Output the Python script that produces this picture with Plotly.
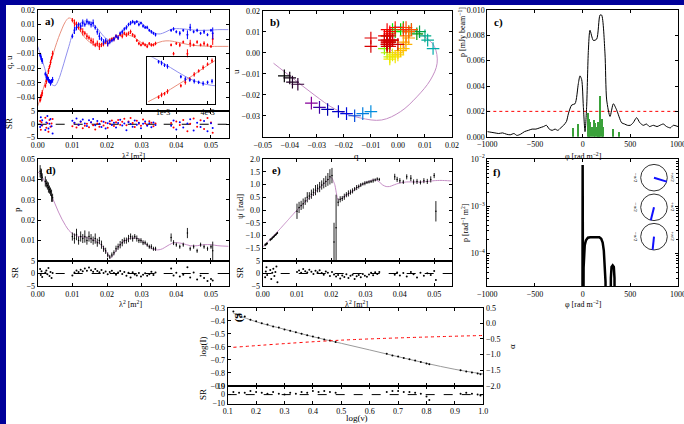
import numpy as np
import plotly.graph_objects as go

W, H = 684, 424
FONT = "Liberation Serif"
BG_BLUE = "#00009a"

# ---------------- data: polarisation vs lambda^2 (panels a, b, d, e) ----------------
LAM2 = [0.0007, 0.0009, 0.0011, 0.0013, 0.0022, 0.0025, 0.0028, 0.0031, 0.0034, 0.0037, 0.0040, 0.0043,
        0.0100, 0.0106, 0.0112, 0.0118, 0.0124, 0.0130, 0.0136, 0.0142, 0.0148, 0.0154,
        0.0160, 0.0166, 0.0172, 0.0178, 0.0184, 0.0190, 0.0196, 0.0202, 0.0208, 0.0214,
        0.0220, 0.0226, 0.0232, 0.0238, 0.0244, 0.0250, 0.0256, 0.0262, 0.0268, 0.0274,
        0.0280, 0.0286, 0.0292, 0.0298, 0.0304, 0.0310, 0.0316, 0.0322, 0.0328, 0.0334, 0.0340,
        0.0385, 0.0392, 0.0400, 0.0410, 0.0420, 0.0432, 0.0440, 0.0450, 0.0460, 0.0470,
        0.0480, 0.0490, 0.0500, 0.0505]

Q = [-0.042, -0.040, -0.039, -0.037, -0.032, -0.029, -0.026, -0.022, -0.019, -0.016, -0.013, -0.010,
     0.013, 0.011, 0.010, 0.008, 0.007, 0.005, 0.004, 0.002, 0.001, -0.001,
     -0.002, -0.004, -0.003, -0.005, -0.004, -0.003, -0.002, -0.003, -0.001, 0.000,
     0.000, 0.002, 0.001, 0.003, 0.002, 0.004, 0.003, 0.004, 0.005, 0.003,
     0.002, -0.001, -0.003, -0.004, -0.003, -0.004, -0.005, -0.003, -0.004, -0.004, -0.003,
     -0.004, -0.010, -0.003, -0.004, -0.002, -0.010, -0.003, -0.004, -0.002, -0.004,
     -0.003, -0.004, -0.005, 0.000]

U = [-0.011, -0.012, -0.014, -0.015, -0.024, -0.026, -0.027, -0.028, -0.029, -0.030, -0.029, -0.028,
     0.002, 0.006, 0.008, 0.010, 0.009, 0.011, 0.010, 0.012, 0.011, 0.010,
     0.011, 0.008, 0.005, 0.002, 0.000, -0.002, -0.001, -0.003, -0.002, -0.001,
     0.000, 0.002, 0.001, 0.004, 0.005, 0.007, 0.008, 0.010, 0.011, 0.012,
     0.011, 0.012, 0.010, 0.011, 0.009, 0.008, 0.008, 0.006, 0.005, 0.004, 0.003,
     0.006, 0.007, 0.005, 0.004, 0.006, 0.003, 0.008, 0.005, 0.006, 0.004,
     0.005, 0.003, 0.006, 0.004]

QU_ERR = [0.0015, 0.002, 0.0015, 0.002, 0.0015, 0.002, 0.0015, 0.002, 0.0015, 0.002, 0.0015, 0.002,
          0.0015, 0.0025, 0.002, 0.0015, 0.002, 0.0025, 0.0015, 0.002, 0.0015, 0.002,
          0.0025, 0.0015, 0.002, 0.0025, 0.0015, 0.002, 0.0015, 0.002, 0.0015, 0.0012,
          0.0015, 0.0012, 0.0015, 0.0012, 0.0015, 0.0012, 0.0015, 0.0012, 0.0015, 0.0012,
          0.0012, 0.001, 0.0012, 0.001, 0.0012, 0.001, 0.0012, 0.001, 0.0012, 0.001, 0.0012,
          0.001, 0.0012, 0.001, 0.0015, 0.001, 0.003, 0.0025, 0.001, 0.0012, 0.001,
          0.0015, 0.001, 0.001, 0.004]

P = [0.044, 0.043, 0.042, 0.041, 0.039, 0.038, 0.037, 0.036, 0.035, 0.034, 0.032, 0.031,
     0.012, 0.011, 0.013, 0.010, 0.012, 0.011, 0.012, 0.010, 0.012, 0.011,
     0.010, 0.011, 0.009, 0.010, 0.008, 0.006, 0.005, 0.003, 0.002, 0.003,
     0.004, 0.006, 0.007, 0.008, 0.009, 0.010, 0.010, 0.011, 0.012, 0.011,
     0.012, 0.011, 0.010, 0.010, 0.009, 0.009, 0.008, 0.007, 0.007, 0.006, 0.006,
     0.0115, 0.009, 0.008, 0.007, 0.008, 0.0137, 0.006, 0.007, 0.005, 0.008,
     0.007, 0.006, 0.007, 0.005]

P_ERR = [0.003, 0.0025, 0.003, 0.002, 0.0025, 0.002, 0.002, 0.0025, 0.002, 0.002, 0.003, 0.002,
         0.002, 0.0025, 0.0028, 0.002, 0.0025, 0.0022, 0.003, 0.002, 0.0025, 0.0022,
         0.002, 0.0025, 0.002, 0.0018, 0.002, 0.0015, 0.0015, 0.0012, 0.001, 0.0012,
         0.0012, 0.0015, 0.0015, 0.0018, 0.0018, 0.0015, 0.0015, 0.0018, 0.0015, 0.0015,
         0.0012, 0.0015, 0.0012, 0.0012, 0.0012, 0.001, 0.001, 0.001, 0.0012, 0.001, 0.001,
         0.002, 0.0012, 0.001, 0.001, 0.001, 0.0025, 0.001, 0.001, 0.001, 0.001,
         0.001, 0.001, 0.001, 0.0045]

PSI = [-1.37, -1.35, -1.33, -1.31, -1.17, -1.14, -1.10, -1.06, -1.02, -0.98, -0.94, -0.90,
       -0.05, 0.10, 0.18, 0.25, 0.35, 0.50, 0.55, 0.62, 0.70, 0.78,
       0.85, 0.90, 0.98, 1.05, 1.12, 1.20, 1.30, 1.35, -1.25, -0.70,
       0.30, 0.42, 0.45, 0.52, 0.60, 0.65, 0.70, 0.75, 0.82, 0.88,
       0.92, 0.98, 1.02, 1.05, 1.08, 1.10, 1.12, 1.15, 1.18, 1.22, 1.20,
       1.30, 1.20, 1.15, 1.10, 1.30, 1.25, 1.10, 1.12, 1.08, 1.15,
       1.12, 1.20, 1.35, -0.05]

PSI_ERR = [0.05, 0.04, 0.05, 0.04, 0.05, 0.04, 0.05, 0.04, 0.05, 0.04, 0.05, 0.04,
           0.3, 0.22, 0.18, 0.2, 0.15, 0.2, 0.15, 0.18, 0.15, 0.2,
           0.16, 0.2, 0.18, 0.2, 0.22, 0.25, 0.3, 0.3, 0.75, 1.3,
           0.15, 0.12, 0.1, 0.12, 0.1, 0.12, 0.1, 0.1, 0.08, 0.1,
           0.08, 0.08, 0.06, 0.08, 0.06, 0.06, 0.06, 0.08, 0.06, 0.06, 0.06,
           0.12, 0.1, 0.1, 0.08, 0.1, 0.12, 0.1, 0.1, 0.08, 0.1,
           0.1, 0.12, 0.1, 0.4]

SR_Q = [1.2, -2.1, 0.8, -0.5, 2.5, -1.3, 0.4, -2.8, 1.6, -0.9, 0.3, 2.0,
        -0.8, 0.5, -1.2, -0.3, 0.9, -1.5, -0.6, 0.2, -1.1, 0.7,
        -0.4, -2.0, 0.3, -0.9, 1.1, -0.5, 0.6, -1.3, 0.2, 1.4,
        -0.7, 0.8, 1.6, -0.2, 0.9, 2.1, -0.4, 1.0, 2.4, 0.5,
        -1.0, 1.3, 0.2, -0.6, 1.8, 0.4, -0.3, 1.1, 0.6, -0.8, 0.3,
        0.5, -1.2, 1.0, -0.3, 1.6, -2.6, 0.2, 2.2, -0.9, 1.5,
        -1.8, 2.4, 0.7, -3.2]
SR_U = [-1.0, 2.6, -0.4, 1.5, -2.2, 0.7, 3.1, -1.6, 0.2, 2.0, -0.8, -3.5,
        1.3, 0.6, 2.2, -0.2, 1.0, 1.8, 0.3, -0.7, 1.5, 0.8,
        2.0, -0.4, 1.2, 0.2, -1.0, 0.9, -1.6, 0.4, 1.1, -0.3,
        0.6, -1.2, 0.5, 1.7, -0.5, 0.3, -2.3, 0.8, 0.1, -0.9,
        1.4, -0.2, 0.6, -1.5, 0.2, 1.0, -0.6, 0.4, -1.1, 0.7, -0.3,
        -0.6, 1.4, -2.0, 0.8, -1.2, 0.3, 1.9, -2.4, 0.6, -1.0,
        1.2, -2.6, 0.4, -1.4]
SR_P = [1.8, -0.6, 0.9, -1.4, 0.4, 1.2, -0.3, 2.2, -1.0, 0.6, -1.8, 0.2,
        -0.8, 0.4, 1.2, 0.6, 1.5, 0.9, 2.0, 1.1, 2.4, 1.3,
        0.7, 1.8, 1.0, 0.5, 1.4, 0.2, 0.8, -0.3, 0.6, 1.1,
        0.2, -0.5, 0.4, 1.0, -0.2, 0.6, -0.9, 0.3, -1.6, 0.5,
        -0.4, -0.8, 0.2, -1.2, -0.5, 0.1, -0.9, -0.3, 0.7, -0.6, 0.4,
        2.0, -0.8, 0.3, -1.2, -0.5, 2.5, -1.6, 0.4, -2.4, -0.9,
        -1.8, -3.0, -2.2, -2.8]
SR_PSI = [-1.5, 0.8, 2.5, -0.6, 1.4, -2.2, 0.3, 1.9, -1.0, 0.6, 2.8, -3.5,
          0.6, 1.2, 0.3, 1.8, 0.9, 0.4, 1.5, 0.7, -0.2, 1.1,
          0.5, 1.3, 0.2, -0.5, 0.8, 0.3, -1.0, 0.6, -0.4, -1.2,
          -0.6, -2.0, -0.8, -1.4, -0.3, -1.8, -0.9, -0.5, -2.2, -1.1,
          -0.6, -1.5, -0.2, -0.9, -1.3, -0.4, 0.3, -0.7, 0.5, -0.2, 0.6,
          -0.5, 0.4, -0.8, 0.2, -1.2, 0.6, -0.3, -1.6, 0.3, -0.9,
          0.1, -0.6, 1.0, -2.6]

# ---------------- model curves ----------------
MODEL_LAM2 = [0.000, 0.001, 0.002, 0.003, 0.004, 0.005, 0.006, 0.007, 0.008, 0.009,
              0.010, 0.011, 0.012, 0.013, 0.014, 0.015, 0.016, 0.017, 0.018, 0.019,
              0.020, 0.021, 0.022, 0.023, 0.024, 0.025, 0.026, 0.027, 0.028, 0.029,
              0.030, 0.031, 0.032, 0.033, 0.034, 0.035, 0.036, 0.037, 0.038, 0.039,
              0.040, 0.042, 0.044, 0.046, 0.048, 0.050, 0.052, 0.055]
Q_MODEL = [-0.046, -0.039, -0.031, -0.023, -0.014, -0.006, 0.001, 0.007, 0.012, 0.0145,
           0.0135, 0.010, 0.0065, 0.003, 0.000, -0.002, -0.0035, -0.004, -0.0038, -0.003,
           -0.0015, 0.000, 0.0012, 0.0022, 0.0028, 0.003, 0.0028, 0.0022, 0.001, -0.0008,
           -0.0025, -0.0035, -0.004, -0.0038, -0.003, -0.0022, -0.0015, -0.0012, -0.0012, -0.0015,
           -0.002, -0.003, -0.004, -0.0045, -0.0048, -0.005, -0.005, -0.005]
U_MODEL = [-0.005, -0.012, -0.020, -0.027, -0.031, -0.032, -0.028, -0.021, -0.013, -0.005,
           0.003, 0.0075, 0.0105, 0.012, 0.0125, 0.012, 0.0105, 0.008, 0.005, 0.002,
           0.000, -0.0008, -0.0002, 0.0015, 0.004, 0.0065, 0.009, 0.011, 0.012, 0.012,
           0.011, 0.009, 0.007, 0.005, 0.004, 0.0035, 0.004, 0.005, 0.0062, 0.007,
           0.0072, 0.007, 0.0065, 0.006, 0.006, 0.0062, 0.0065, 0.0065]
P_MODEL = [0.0438, 0.042, 0.039, 0.0355, 0.032, 0.028, 0.024, 0.0205, 0.0175, 0.015,
           0.0135, 0.0125, 0.012, 0.0118, 0.0115, 0.011, 0.0105, 0.0095, 0.0085, 0.0065,
           0.004, 0.0015, 0.0035, 0.006, 0.0085, 0.0098, 0.0106, 0.0112, 0.0113, 0.011,
           0.0098, 0.0085, 0.0072, 0.006, 0.0055, 0.0055, 0.006, 0.007, 0.008, 0.0088,
           0.009, 0.0085, 0.0075, 0.0075, 0.008, 0.008, 0.0075, 0.0072]
PSI_MODEL = [-1.45, -1.31, -1.17, -1.03, -0.89, -0.75, -0.60, -0.45, -0.30, -0.15,
             0.00, 0.13, 0.27, 0.40, 0.53, 0.66, 0.79, 0.92, 1.05, 1.17,
             1.28, 1.00, 0.40, 0.45, 0.55, 0.62, 0.72, 0.82, 0.92, 1.00,
             1.07, 1.13, 1.18, 1.18, 1.10, 0.98, 0.92, 0.92, 0.97, 1.02,
             1.06, 1.10, 1.10, 1.10, 1.12, 1.15, 1.16, 1.14]

# ---------------- panel c: Faraday dispersion (observed) ----------------
C_PHI = [-1000, -960, -920, -880, -840, -800, -760, -720, -690, -650, -610, -570, -530, -490,
         -450, -410, -380, -350, -320, -290, -260, -230, -200, -170, -150, -115, -80, -45, -28,
         -10, 7, 25, 42, 60, 77, 112, 147, 182, 199, 234, 252, 287, 322, 357, 409, 440, 470,
         500, 530, 566, 600, 636, 670, 700, 741, 780, 810, 846, 880, 920, 951, 1000]
C_AMP = [0.0004, 0.00035, 0.0003, 0.00025, 0.0003, 0.0002, 0.00015, 0.00025, 0.0001, 0.0002,
         0.0004, 0.0005, 0.0006, 0.0006, 0.0007, 0.0008, 0.0009, 0.0006, 0.0005, 0.0006,
         0.0005, 0.0007, 0.0009, 0.0012, 0.0018, 0.0025, 0.0026, 0.0042, 0.0048, 0.0045,
         0.0024, 0.0004, 0.0024, 0.0068, 0.0084, 0.0076, 0.0077, 0.0096, 0.0096, 0.0066,
         0.0029, 0.0016, 0.0026, 0.0021, 0.0011, 0.0010, 0.0009, 0.0009, 0.0011, 0.0015,
         0.0011, 0.0009, 0.0010, 0.0008, 0.0009, 0.0008, 0.0009, 0.0010, 0.0008, 0.0007,
         0.0009, 0.0008]
C_COMP_PHI = [-100, -45, 55, 70, 85, 100, 120, 135, 150, 160, 175, 190, 205, 220, 322, 380]
C_COMP_AMP = [0.0007, 0.001, 0.0019, 0.0014, 0.0012, 0.0008, 0.0013, 0.0011, 0.0008,
              0.0012, 0.0009, 0.0032, 0.0014, 0.0008, 0.0006, 0.0004]
C_THRESHOLD = 0.002

# ---------------- panel f: model Faraday dispersion ----------------
F_PHI = [-1000, -3, 0, 3, 6, 10, 15, 22, 35, 55, 80, 130, 175, 195, 210, 222, 232, 240, 248,
         290, 296, 303, 315, 327, 334, 340, 1000]
F_AMP = [1e-7, 1e-7, 7.5e-3, 1e-7, 1e-7, 5e-5, 1.1e-4, 1.5e-4, 1.9e-4, 2.15e-4, 2.2e-4, 2.2e-4,
         2.2e-4, 2.05e-4, 1.7e-4, 1.15e-4, 6e-5, 2.5e-5, 1e-7, 1e-7, 3e-5, 5.2e-5, 5.6e-5,
         5.2e-5, 3e-5, 1e-7, 1e-7]
CIRCLE_ANGLES_DEG = [-17, -104, -96]

# ---------------- panel g: total intensity ----------------
G_NU = [0.12, 0.14, 0.16, 0.18, 0.20, 0.22, 0.24, 0.26, 0.28, 0.30, 0.32, 0.34, 0.36, 0.38,
        0.40, 0.42, 0.44, 0.46, 0.48,
        0.66, 0.68, 0.70, 0.72, 0.74, 0.76, 0.78, 0.80, 0.81,
        0.92, 0.94, 0.96, 0.98, 0.99]
G_LOGI = [-0.330, -0.352, -0.368, -0.392, -0.405, -0.420, -0.430, -0.444, -0.452, -0.468,
          -0.478, -0.489, -0.500, -0.511, -0.522, -0.532, -0.544, -0.553, -0.563,
          -0.655, -0.667, -0.676, -0.687, -0.697, -0.707, -0.718, -0.729, -0.735,
          -0.782, -0.790, -0.799, -0.806, -0.812]
G_SR = [3, 2, 2, 4, 3, 2, 1, 3, 1, 0, 2, 1, 3, 2, 4, 3, 4, 3, 2,
        3, 4, 4, 3, 3, 2, 1, -2, -6,
        1, 2, 1, 0, -1]
G_MODEL_NU = [0.12, 0.2, 0.3, 0.4, 0.5, 0.6, 0.7, 0.8, 0.9, 1.0]
G_MODEL_LOGI = [-0.343, -0.408, -0.466, -0.523, -0.574, -0.625, -0.677, -0.728, -0.774, -0.81]
ALPHA_NU = [0.12, 0.5, 1.0]
ALPHA = [-0.77, -0.54, -0.39]

# ---------------- helpers ----------------
def dx(p0, p1):
    return [p0 / W, p1 / W]


def dy(top, bot):
    return [1 - bot / H, 1 - top / H]


BASE = dict(showline=True, linecolor="black", linewidth=1, mirror="ticks", ticks="inside",
            ticklen=3, tickwidth=1, tickcolor="black", showgrid=False, zeroline=False,
            automargin=False,
            tickfont=dict(family=FONT, size=8, color="black"))


def axis(**kw):
    d = dict(BASE)
    d.update(kw)
    return d


NIPY = [(0.0, (0, 0, 0)), (0.05, (0.47, 0, 0.53)), (0.1, (0.53, 0, 0.6)), (0.15, (0, 0, 0.67)),
        (0.2, (0, 0, 0.87)), (0.25, (0, 0.47, 0.87)), (0.3, (0, 0.6, 0.87)), (0.35, (0, 0.67, 0.67)),
        (0.4, (0, 0.67, 0.53)), (0.45, (0, 0.6, 0)), (0.5, (0, 0.73, 0)), (0.55, (0, 0.87, 0)),
        (0.6, (0, 1, 0)), (0.65, (0.73, 0.93, 0)), (0.7, (0.93, 0.93, 0)), (0.75, (1, 0.8, 0)),
        (0.8, (1, 0.6, 0)), (0.85, (1, 0, 0)), (0.9, (0.87, 0, 0)), (0.95, (0.8, 0, 0)),
        (1.0, (0.8, 0.8, 0.8))]


def nipy(v):
    xs = [p[0] for p in NIPY]
    rgb = [np.interp(v, xs, [p[1][k] for p in NIPY]) for k in range(3)]
    return "rgb(%d,%d,%d)" % tuple(int(round(255 * c)) for c in rgb)


lam = np.array(LAM2)
cpos = np.interp(lam, [0.0007, 0.0013, 0.0022, 0.0031, 0.0043, 0.0100, 0.0150, 0.0200, 0.0250, 0.0300, 0.0505],
                 [0.0, 0.02, 0.1, 0.18, 0.28, 0.35, 0.55, 0.7, 0.8, 0.86, 0.95])
B_COLORS = [nipy(c) for c in cpos]

RED, BLUE = "#ff0000", "#0000ff"
MODEL_RED, MODEL_BLUE, MODEL_PINK = "#e8907e", "#9090ee", "#c58ec5"
LMAX = 0.0552

fig = go.Figure()


def sc(**kw):
    fig.add_trace(go.Scatter(showlegend=False, hoverinfo="skip", **kw))


def errbar(arr, color):
    return dict(type="data", array=arr, visible=True, color=color, thickness=1, width=0)


zero_x = [0, LMAX]
# ----- panel a -----
sc(x=MODEL_LAM2, y=Q_MODEL, mode="lines", line=dict(color=MODEL_RED, width=1, shape="spline"), xaxis="x", yaxis="y")
sc(x=MODEL_LAM2, y=U_MODEL, mode="lines", line=dict(color=MODEL_BLUE, width=1, shape="spline"), xaxis="x", yaxis="y")
sc(x=LAM2, y=Q, mode="markers", marker=dict(color=RED, size=2), error_y=errbar(QU_ERR, RED), xaxis="x", yaxis="y")
sc(x=LAM2, y=U, mode="markers", marker=dict(color=BLUE, size=2), error_y=errbar(QU_ERR, BLUE), xaxis="x", yaxis="y")
sc(x=zero_x, y=[0, 0], mode="lines", line=dict(color="black", width=1, dash="dash"), xaxis="x2", yaxis="y2")
sc(x=LAM2, y=SR_Q, mode="markers", marker=dict(color=RED, size=2), xaxis="x2", yaxis="y2")
sc(x=LAM2, y=SR_U, mode="markers", marker=dict(color=BLUE, size=2), xaxis="x2", yaxis="y2")
# inset
NLOW = 12
sc(x=MODEL_LAM2[:7], y=Q_MODEL[:7], mode="lines", line=dict(color=MODEL_RED, width=1, shape="spline"), xaxis="x12", yaxis="y13")
sc(x=MODEL_LAM2[:7], y=U_MODEL[:7], mode="lines", line=dict(color=MODEL_BLUE, width=1, shape="spline"), xaxis="x12", yaxis="y13")
sc(x=LAM2[:NLOW], y=Q[:NLOW], mode="markers", marker=dict(color=RED, size=2), error_y=errbar(QU_ERR[:NLOW], RED), xaxis="x12", yaxis="y13")
sc(x=LAM2[:NLOW], y=U[:NLOW], mode="markers", marker=dict(color=BLUE, size=2), error_y=errbar(QU_ERR[:NLOW], BLUE), xaxis="x12", yaxis="y13")

# ----- panel b -----
sc(x=Q_MODEL, y=U_MODEL, mode="lines", line=dict(color=MODEL_PINK, width=1, shape="spline"), xaxis="x3", yaxis="y3")
sc(x=Q, y=U, mode="markers", marker=dict(symbol="cross-thin-open", size=9, color=B_COLORS, line=dict(width=1.2)),
   xaxis="x3", yaxis="y3")

# ----- panel c -----
fig.add_trace(go.Bar(x=C_COMP_PHI, y=C_COMP_AMP, width=10, marker=dict(color="#3aa13a", line=dict(width=0)),
                     showlegend=False, hoverinfo="skip", xaxis="x4", yaxis="y4"))
sc(x=[-1000, 1000], y=[C_THRESHOLD, C_THRESHOLD], mode="lines", line=dict(color="red", width=1, dash="dot"), xaxis="x4", yaxis="y4")
sc(x=C_PHI, y=C_AMP, mode="lines", line=dict(color="black", width=1, shape="spline", smoothing=0.7), xaxis="x4", yaxis="y4")

# ----- panel d -----
sc(x=MODEL_LAM2, y=P_MODEL, mode="lines", line=dict(color=MODEL_PINK, width=1, shape="spline"), xaxis="x5", yaxis="y5")
sc(x=LAM2, y=P, mode="markers", marker=dict(color="black", size=1.5), error_y=errbar(P_ERR, "#222222"), xaxis="x5", yaxis="y5")
sc(x=zero_x, y=[0, 0], mode="lines", line=dict(color="black", width=1, dash="dash"), xaxis="x6", yaxis="y6")
sc(x=LAM2, y=SR_P, mode="markers", marker=dict(color="black", size=2), xaxis="x6", yaxis="y6")

# ----- panel e -----
sc(x=MODEL_LAM2, y=PSI_MODEL, mode="lines", line=dict(color=MODEL_PINK, width=1, shape="spline", smoothing=0.6), xaxis="x7", yaxis="y7")
sc(x=LAM2, y=PSI, mode="markers", marker=dict(color="black", size=1.5), error_y=errbar(PSI_ERR, "#222222"), xaxis="x7", yaxis="y7")
sc(x=zero_x, y=[0, 0], mode="lines", line=dict(color="black", width=1, dash="dash"), xaxis="x8", yaxis="y8")
sc(x=LAM2, y=SR_PSI, mode="markers", marker=dict(color="black", size=2), xaxis="x8", yaxis="y8")

# ----- panel f -----
sc(x=F_PHI, y=F_AMP, mode="lines", line=dict(color="black", width=2.5), xaxis="x9", yaxis="y9")

# ----- panel g -----
sc(x=G_MODEL_NU, y=G_MODEL_LOGI, mode="lines", line=dict(color="#9a9a9a", width=1, shape="spline"), xaxis="x10", yaxis="y10")
sc(x=G_NU, y=G_LOGI, mode="markers", marker=dict(color="black", size=2), xaxis="x10", yaxis="y10")
sc(x=ALPHA_NU, y=ALPHA, mode="lines", line=dict(color="red", width=1, dash="dot", shape="spline"), xaxis="x10", yaxis="y11")
sc(x=[0.1, 1.0], y=[0, 0], mode="lines", line=dict(color="black", width=1, dash="dash"), xaxis="x11", yaxis="y12")
sc(x=G_NU, y=G_SR, mode="markers", marker=dict(color="black", size=2), xaxis="x11", yaxis="y12")

# ---------------- layout ----------------
LT = [0, 0.01, 0.02, 0.03, 0.04, 0.05]
XA, XB, XC = dx(37.7, 229), dx(262.7, 452), dx(487.3, 678)
XG = dx(227.7, 483.3)

layout = dict(
    width=W, height=H, autosize=False, margin=dict(l=0, r=0, t=0, b=0, pad=0, autoexpand=False),
    paper_bgcolor=BG_BLUE, plot_bgcolor="white", showlegend=False, bargap=0,
    font=dict(family=FONT, size=8, color="black"),
    # a
    xaxis=axis(domain=XA, anchor="y", range=[0, LMAX], tickvals=LT, showticklabels=False),
    yaxis=axis(domain=dy(10, 111), anchor="x", range=[-0.0494, 0.02],
               tickvals=[-0.04, -0.03, -0.02, -0.01, 0, 0.01, 0.02], tickformat=".2f"),
    xaxis2=axis(domain=XA, anchor="y2", range=[0, LMAX], tickvals=LT, tickformat=".2f"),
    yaxis2=axis(domain=dy(111, 137.5), anchor="x2", range=[-5, 5], tickvals=[-5, 0, 5]),
    # b
    xaxis3=axis(domain=XB, anchor="y3", range=[-0.05, 0.02],
                tickvals=[-0.05, -0.04, -0.03, -0.02, -0.01, 0, 0.01, 0.02], tickformat=".2f"),
    yaxis3=axis(domain=dy(10.7, 137), anchor="x3", range=[-0.0401, 0.02],
                tickvals=[-0.03, -0.02, -0.01, 0, 0.01, 0.02], tickformat=".2f"),
    # c
    xaxis4=axis(domain=XC, anchor="y4", range=[-1000, 1000], tickvals=[-1000, -500, 0, 500, 1000],
                ticklabeloverflow="allow"),
    yaxis4=axis(domain=dy(10, 136.7), anchor="x4", range=[0, 0.01],
                tickvals=[0, 0.002, 0.004, 0.006, 0.008, 0.010], tickformat=".3f"),
    # d
    xaxis5=axis(domain=XA, anchor="y5", range=[0, LMAX], tickvals=LT, showticklabels=False),
    yaxis5=axis(domain=dy(159, 261), anchor="x5", range=[0, 0.05],
                tickvals=[0.01, 0.02, 0.03, 0.04, 0.05], tickformat=".2f"),
    xaxis6=axis(domain=XA, anchor="y6", range=[0, LMAX], tickvals=LT, tickformat=".2f"),
    yaxis6=axis(domain=dy(261, 286), anchor="x6", range=[-5, 5], tickvals=[-5, 0, 5]),
    # e
    xaxis7=axis(domain=XB, anchor="y7", range=[0, LMAX], tickvals=LT, showticklabels=False),
    yaxis7=axis(domain=dy(159, 261), anchor="x7", range=[-2, 2],
                tickvals=[-1.5, -1.0, -0.5, 0, 0.5, 1.0, 1.5, 2.0], tickformat=".1f"),
    xaxis8=axis(domain=XB, anchor="y8", range=[0, LMAX], tickvals=LT, tickformat=".2f"),
    yaxis8=axis(domain=dy(261, 286), anchor="x8", range=[-5, 5], tickvals=[-5, 0, 5]),
    # f
    xaxis9=axis(domain=XC, anchor="y9", range=[-1000, 1000], tickvals=[-1000, -500, 0, 500, 1000],
                ticklabeloverflow="allow"),
    yaxis9=axis(domain=dy(159, 286), anchor="x9", type="log", range=[-4.69, -2],
                tickvals=[1e-4, 1e-3, 1e-2],
                ticktext=["10<sup>−4</sup>", "10<sup>−3</sup>", "10<sup>−2</sup>"],
                minor=dict(ticks="inside", ticklen=2, tickcolor="black", dtick="D1", showgrid=False)),
    # g
    xaxis10=axis(domain=XG, anchor="y10", range=[0.1, 1.0],
                 tickvals=[0.1, 0.2, 0.3, 0.4, 0.5, 0.6, 0.7, 0.8, 0.9, 1.0], showticklabels=False),
    yaxis10=axis(domain=dy(307.7, 385.7), anchor="x10", range=[-0.9, -0.3], mirror=True,
                 tickvals=[-0.9, -0.8, -0.7, -0.6, -0.5, -0.4, -0.3], tickformat=".1f"),
    yaxis11=axis(overlaying="y10", anchor="x10", side="right", range=[-2.0, 0.5], mirror=False,
                 tickvals=[-2.0, -1.5, -1.0, -0.5, 0.0, 0.5], tickformat=".1f"),
    xaxis11=axis(domain=XG, anchor="y12", range=[0.1, 1.0],
                 tickvals=[0.1, 0.2, 0.3, 0.4, 0.5, 0.6, 0.7, 0.8, 0.9, 1.0], tickformat=".1f"),
    yaxis12=axis(domain=dy(385.7, 403.5), anchor="x11", range=[-10, 10], tickvals=[-10, 0, 10]),
    # inset in a
    xaxis12=axis(domain=dx(146.7, 215), anchor="y13", range=[-0.0001, 0.0045],
                 tickvals=[0.001, 0.004], ticktext=["1e-3", "4e-3"]),
    yaxis13=axis(domain=dy(57.3, 104), anchor="x12", range=[-0.048, -0.007], showticklabels=False,
                 ticks=""),
)

anns = []


def ann(text, px, py, angle=0, size=9, bold=False):
    if bold:
        text = "<b>" + text + "</b>"
    anns.append(dict(text=text, x=px / W, y=1 - py / H, xref="paper", yref="paper", showarrow=False,
                     textangle=angle, font=dict(family=FONT, size=size, color="black"),
                     xanchor="center", yanchor="middle"))


# panel labels
ann("a)", 50, 21, size=11, bold=True)
ann("b)", 275, 23, size=11, bold=True)
ann("c)", 498, 23, size=11, bold=True)
ann("d)", 51, 170, size=11, bold=True)
ann("e)", 276, 170, size=11, bold=True)
ann("f)", 497, 172, size=11, bold=True)
ann("g)", 241, 318, angle=90, size=11, bold=True)
# axis titles
ann("q, u", 9, 62, angle=-90)
ann("SR", 9, 124, angle=-90)
ann("λ<sup>2</sup> [m<sup>2</sup>]", 133, 156, size=8)
ann("u", 236, 72, angle=-90)
ann("q", 357, 156)
ann("p [mJy beam<sup>−1</sup>]", 462, 32, angle=-90, size=8)
ann("φ [rad m<sup>−2</sup>]", 583, 156, size=8)
ann("p", 17, 210, angle=-90)
ann("SR", 15, 273, angle=-90)
ann("λ<sup>2</sup> [m<sup>2</sup>]", 130, 304, size=8)
ann("ψ [rad]", 240, 207, angle=-90)
ann("SR", 240, 273, angle=-90)
ann("λ<sup>2</sup> [m<sup>2</sup>]", 357, 304, size=8)
ann("p [rad<sup>−1</sup> m<sup>2</sup>]", 465, 223, angle=-90, size=8)
ann("φ [rad m<sup>−2</sup>]", 583, 304, size=8)
ann("log(I)", 203, 347, angle=-90)
ann("SR", 203, 395, angle=-90)
ann("α", 512, 347, angle=-90)
ann("log(ν)", 357, 418)

shapes = [dict(type="rect", xref="paper", yref="paper", x0=6 / W, x1=1, y0=0, y1=1 - 5 / H,
               fillcolor="white", line=dict(width=0), layer="below")]

CX, R = 654, 13.3
CYS = [177.7, 207.3, 236.7]
for cy, ang in zip(CYS, CIRCLE_ANGLES_DEG):
    shapes.append(dict(type="circle", xref="paper", yref="paper",
                       x0=(CX - R) / W, x1=(CX + R) / W, y0=1 - (cy + R) / H, y1=1 - (cy - R) / H,
                       line=dict(color="#333333", width=1), fillcolor="rgba(255,255,255,0)"))
    t = np.deg2rad(ang)
    ex, ey = CX + R * np.cos(t), cy - R * np.sin(t)
    shapes.append(dict(type="line", xref="paper", yref="paper",
                       x0=CX / W, y0=1 - cy / H, x1=ex / W, y1=1 - ey / H,
                       line=dict(color="#1010ff", width=2)))
    ann("−π/2", CX - R - 5, cy, angle=90, size=5)
    ann("+π/2", CX + R + 5, cy, angle=90, size=5)

layout["annotations"] = anns
layout["shapes"] = shapes
fig.update_layout(**layout)

# remove the default page margin so the 684x424 figure fills the browser window exactly
PAGE_FIX = ("document.body.style.margin='0';document.body.style.padding='0';"
            "document.body.style.background='" + BG_BLUE + "';")
fig.write_html("out.html", post_script=PAGE_FIX, config={"displayModeBar": False})
